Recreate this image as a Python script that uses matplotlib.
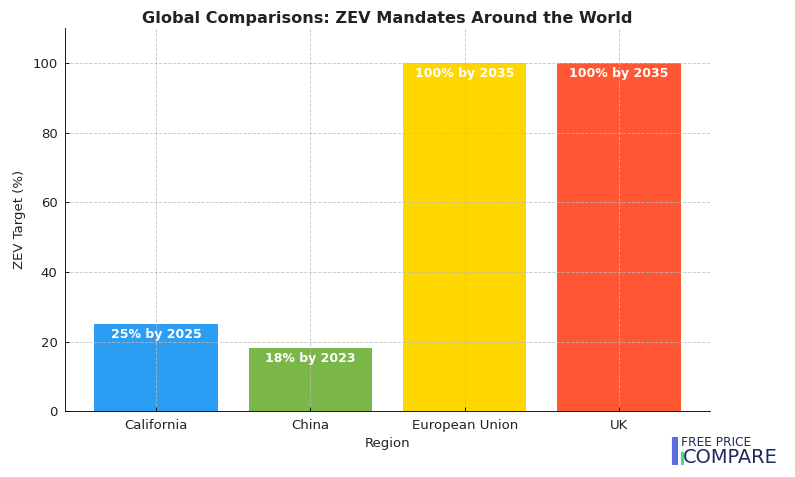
import matplotlib
matplotlib.use("Agg")
import matplotlib.pyplot as plt
from matplotlib.patches import Rectangle

regions = ["California", "China", "European Union", "UK"]
targets = [25, 18, 100, 100]
labels = ["25% by 2025", "18% by 2023", "100% by 2035", "100% by 2035"]
colors = ["#2B9EF3", "#7AB648", "#FFD700", "#FF5733"]

fig = plt.figure(figsize=(10, 6), dpi=79.5)
ax = fig.add_axes([0.082, 0.138, 0.811, 0.803])

bars = ax.bar(regions, targets, color=colors, width=0.8, zorder=1)
for bar, text in zip(bars, labels):
    ax.text(bar.get_x() + bar.get_width() / 2, bar.get_height() - 3, text,
            ha="center", va="center", color="white", fontsize=11.3, fontweight="bold", zorder=4)

ax.set_ylim(0, 110)
ax.set_title("Global Comparisons: ZEV Mandates Around the World", fontsize=14.6,
             fontweight="bold", color="#222222", pad=5)
ax.set_xlabel("Region", fontsize=12, color="#222222", labelpad=5)
ax.set_ylabel("ZEV Target (%)", fontsize=12, color="#222222", labelpad=6)
ax.tick_params(labelsize=12, labelcolor="#222222", direction="in", pad=7)
ax.grid(True, linestyle="--", color="#bbbbbb", linewidth=0.8, alpha=0.8, zorder=3)
ax.set_axisbelow(False)
ax.spines["top"].set_visible(False)
ax.spines["right"].set_visible(False)

# logo
fig.patches.append(Rectangle((0.845, 0.027), 0.007, 0.057, transform=fig.transFigure,
                             color="#5B6EE1", zorder=5))
fig.patches.append(Rectangle((0.856, 0.027), 0.003, 0.025, transform=fig.transFigure,
                             color="#3FE07A", zorder=5))
fig.text(0.856, 0.073, "FREE PRICE", fontsize=11, color="#1F2A5C", va="center",
         family="Liberation Sans Narrow")
fig.text(0.859, 0.040, "COMPARE", fontsize=17.5, color="#1F2A5C", va="center",
         family="Liberation Sans Narrow")

fig.savefig("out.png", dpi=79.5)
